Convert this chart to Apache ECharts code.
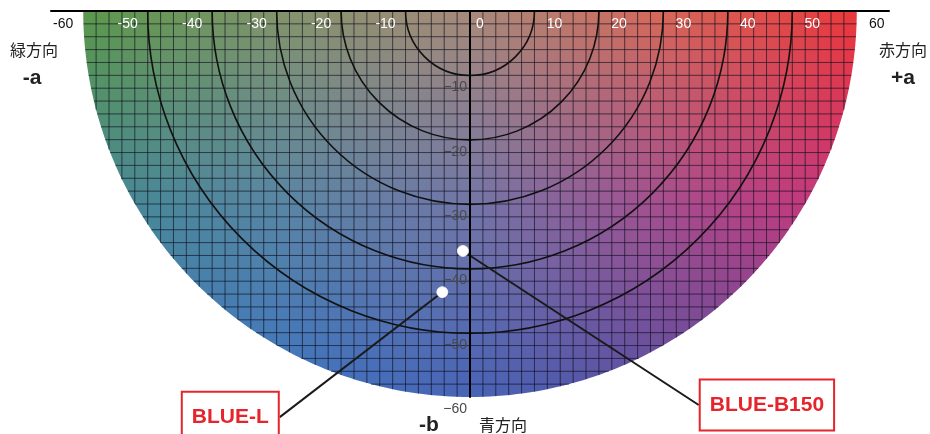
<!DOCTYPE html>
<html>
<head>
<meta charset="utf-8">
<script src="https://cdn.jsdelivr.net/npm/echarts@6/dist/echarts.min.js"></script>
<style>
html, body { margin: 0; padding: 0; background: #fff; }
#main { width: 930px; height: 434px; }
</style>
</head>
<body>
<div id="main"></div>
<script>
// a* / b* ticks
var aTicks = [-60, -50, -40, -30, -20, -10, 0, 10, 20, 30, 40, 50, 60];
var bTicks = [-10, -20, -30, -40, -50, -60];
var rings = [10, 20, 30, 40, 50];
var outerR = 60;
var gridStep = 2;

// measured samples
var pointNames = ['BLUE-B150', 'BLUE-L'];
var pointA = [-1.1, -4.3];
var pointB = [-37.3, -43.7];
var labelDx = [304, -212];
var labelDy = [154, 125];

// colour anchors of the printed chart (rows b = 0, -30, -60 ; cols a = -60..60)
var anchorColors = [
    ['#5a984a', '#82946a', '#a88a7a', '#d66858', '#ea383a'],
    ['#428892', '#5886a4', '#7276a8', '#a64e8e', '#ca3278'],
    ['#367abc', '#3e74c0', '#4864b6', '#5a4ea0', '#6a4294']
];

function hexRgb(h) {
    return [parseInt(h.substr(1, 2), 16), parseInt(h.substr(3, 2), 16), parseInt(h.substr(5, 2), 16)];
}
function mix(c1, c2, t) {
    return [c1[0] + (c2[0] - c1[0]) * t, c1[1] + (c2[1] - c1[1]) * t, c1[2] + (c2[2] - c1[2]) * t];
}
function cellColor(a, b) {
    var fx = (a + 60) / 30, i = Math.min(3, Math.floor(fx)), tx = fx - i;
    var fy = -b / 30, j = Math.min(1, Math.floor(fy)), ty = fy - j;
    var top = mix(hexRgb(anchorColors[j][i]), hexRgb(anchorColors[j][i + 1]), tx);
    var bot = mix(hexRgb(anchorColors[j + 1][i]), hexRgb(anchorColors[j + 1][i + 1]), tx);
    var c = mix(top, bot, ty);
    return 'rgb(' + Math.round(c[0]) + ',' + Math.round(c[1]) + ',' + Math.round(c[2]) + ')';
}

var cells = [];
for (var a = -outerR; a < outerR; a += gridStep) {
    for (var b = 0; b > -outerR; b -= gridStep) {
        var na = Math.max(a, Math.min(0, a + gridStep));
        var nb = Math.max(b - gridStep, Math.min(0, b));
        if (na * na + nb * nb < outerR * outerR) cells.push([a, b]);
    }
}
var gridLines = [];
for (var v = -outerR + gridStep; v < outerR; v += gridStep) {
    if (v !== 0) gridLines.push([v, 0]);
}
for (var w = -gridStep; w > -outerR; w -= gridStep) {
    gridLines.push([w, 1]);
}

var chart = echarts.init(document.getElementById('main'));
var font = 'Liberation Sans, Arial, sans-serif';
var jp = 'Noto Sans CJK JP, sans-serif';

option = {
    animation: false,
    grid: { left: 51, right: 41, top: 11, bottom: 37, containLabel: false, outerBoundsMode: 'none' },
    xAxis: {
        type: 'value', min: -65, max: 65, position: 'top', z: 10,
        axisLine: { lineStyle: { color: '#000', width: 2 } },
        axisTick: { show: false },
        splitLine: { show: false },
        axisLabel: {
            inside: true, margin: 6, customValues: aTicks, showMinLabel: true, showMaxLabel: true,
            formatter: function (v) {
                var outside = Math.abs(v) === 60;
                if (v < 0) return '{' + (outside ? 'nk' : 'nw') + '|' + v + '}{s|}';
                if (v === 0) return '{s0|}{pw|0}';
                return '{s|}{' + (outside ? 'pk' : 'pw') + '|' + v + '}';
            },
            rich: {
                nw: { width: 40, align: 'right', color: '#fff', fontSize: 14, fontFamily: font },
                nk: { width: 40, align: 'right', color: '#111', fontSize: 14, fontFamily: font },
                pw: { width: 40, align: 'left', color: '#fff', fontSize: 14, fontFamily: font },
                pk: { width: 40, align: 'left', color: '#111', fontSize: 14, fontFamily: font },
                s: { width: 40 },
                s0: { width: 20 }
            }
        }
    },
    yAxis: {
        type: 'value', min: -60, max: 0, z: 10, offset: -419,
        axisLine: { onZero: false, lineStyle: { color: '#000', width: 2 } },
        axisTick: { show: false },
        splitLine: { show: false },
        axisLabel: {
            customValues: bTicks, margin: 3, color: '#4a4a4a', fontSize: 14, fontFamily: font,
            verticalAlign: 'top', lineHeight: 14, padding: [5, 0, 0, 0],
            formatter: function (v) { return '\u2212' + Math.abs(v); }
        }
    },
    graphic: [
        { type: 'text', x: 34, y: 50, style: { text: '緑方向', font: '16px ' + jp, fill: '#222', textAlign: 'center', textVerticalAlign: 'middle' } },
        { type: 'text', x: 32, y: 78, style: { text: '-a', font: 'bold 21px ' + font, fill: '#222', textAlign: 'center', textVerticalAlign: 'middle' } },
        { type: 'text', x: 903, y: 50, style: { text: '赤方向', font: '16px ' + jp, fill: '#222', textAlign: 'center', textVerticalAlign: 'middle' } },
        { type: 'text', x: 903, y: 78, style: { text: '+a', font: 'bold 21px ' + font, fill: '#222', textAlign: 'center', textVerticalAlign: 'middle' } },
        { type: 'text', x: 429, y: 425, style: { text: '-b', font: 'bold 21px ' + font, fill: '#222', textAlign: 'center', textVerticalAlign: 'middle' } },
        { type: 'text', x: 503, y: 425, style: { text: '青方向', font: '16px ' + jp, fill: '#222', textAlign: 'center', textVerticalAlign: 'middle' } }
    ],
    series: [
        {
            // colour cells
            type: 'custom', z: 1, progressive: 0, silent: true,
            data: cells,
            renderItem: function (params, api) {
                var x = api.value(0), y = api.value(1);
                var p0 = api.coord([x, y]);
                var p1 = api.coord([x + gridStep, y - gridStep]);
                return {
                    type: 'rect',
                    shape: { x: p0[0] - 0.3, y: p0[1] - 0.3, width: p1[0] - p0[0] + 0.6, height: p1[1] - p0[1] + 0.6 },
                    style: { fill: cellColor(x + gridStep / 2, y - gridStep / 2) }
                };
            }
        },
        {
            // white outside the half disc
            type: 'custom', z: 2, silent: true,
            data: [[0, 0]],
            renderItem: function (params, api) {
                var pts = [];
                for (var k = 0; k <= 180; k++) {
                    var t = Math.PI + Math.PI * k / 180;
                    pts.push(api.coord([outerR * Math.cos(t), outerR * Math.sin(t)]));
                }
                var br = api.coord([outerR, -outerR]);
                var bl = api.coord([-outerR, -outerR]);
                pts.push([br[0] + 3, pts[pts.length - 1][1]]);
                pts.push([br[0] + 3, br[1] + 3]);
                pts.push([bl[0] - 3, bl[1] + 3]);
                pts.push([bl[0] - 3, pts[0][1]]);
                return { type: 'polygon', shape: { points: pts }, style: { fill: '#fff' } };
            }
        },
        {
            // 2-unit grid clipped to the half disc
            type: 'custom', z: 3, silent: true,
            data: gridLines,
            renderItem: function (params, api) {
                var v = api.value(0), dir = api.value(1);
                var half = Math.sqrt(outerR * outerR - v * v);
                var p0, p1;
                if (dir === 0) { p0 = api.coord([v, 0]); p1 = api.coord([v, -half]); }
                else { p0 = api.coord([-half, v]); p1 = api.coord([half, v]); }
                return {
                    type: 'line',
                    shape: { x1: p0[0], y1: p0[1], x2: p1[0], y2: p1[1] },
                    style: { stroke: 'rgba(15,15,30,0.66)', lineWidth: 1 }
                };
            }
        },
        {
            // distance rings
            type: 'custom', z: 4, silent: true,
            data: rings,
            renderItem: function (params, api) {
                var c = api.coord([0, 0]);
                var r = api.size([api.value(0), 0])[0];
                return {
                    type: 'arc',
                    shape: { cx: c[0], cy: c[1], r: r, startAngle: 0, endAngle: Math.PI, clockwise: true },
                    style: { stroke: '#111', lineWidth: 1.6, fill: null }
                };
            }
        }
    ]
};

for (var n = 0; n < pointNames.length; n++) {
    option.series.push({
        type: 'scatter', z: 8,
        symbol: 'circle', symbolSize: 11,
        itemStyle: { color: '#fff', borderColor: 'rgba(255,255,255,0.7)', borderWidth: 1, opacity: 1 },
        data: [[pointA[n], pointB[n], pointNames[n]]],
        label: {
            show: true, position: 'inside',
            formatter: function (p) { return p.value[2]; },
            color: '#e5242c', fontSize: 21, fontWeight: 'bold', fontFamily: font, lineHeight: 21,
            backgroundColor: '#fff', borderColor: '#e5242c', borderWidth: 2, padding: [14, 9, 14, 9]
        },
        labelLayout: { dx: labelDx[n], dy: labelDy[n] },
        labelLine: { show: true, lineStyle: { color: '#1a1a1a', width: 2 } }
    });
}

chart.setOption(option);
</script>
</body>
</html>
